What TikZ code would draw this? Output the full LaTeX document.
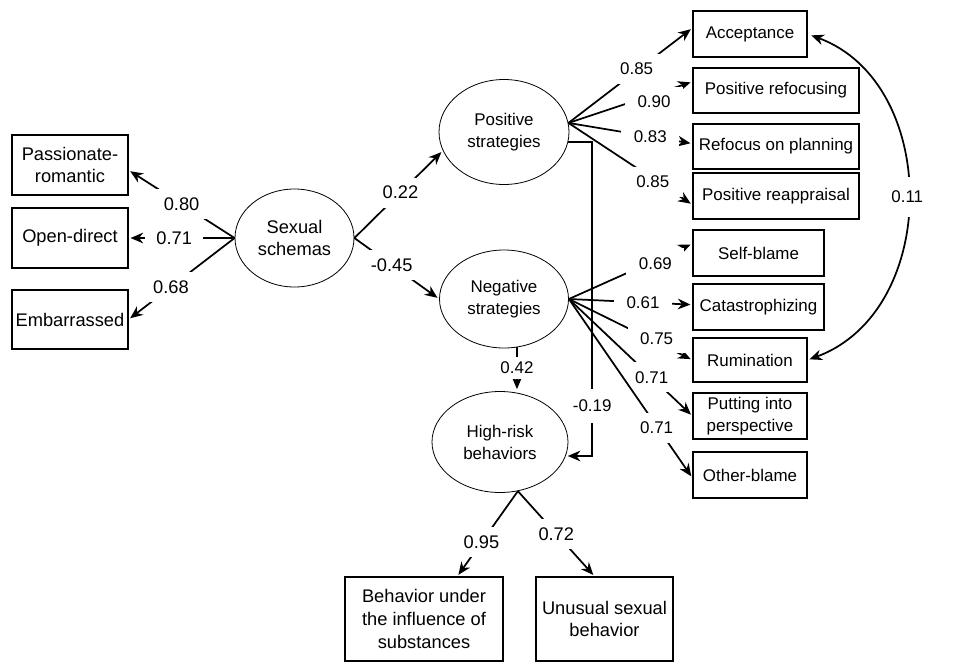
\documentclass[tikz,border=0pt]{standalone}
\usepackage{fontspec}
\setmainfont{Liberation Sans}
\usetikzlibrary{shapes.geometric,arrows.meta}
\newlength\pxu
\setlength\pxu{0.75pt}
\newcommand\lfont{\fontsize{13.7}{17}\selectfont}
\newcommand\rfont{\fontsize{12.7}{16.5}\selectfont}

\begin{document}
\begin{tikzpicture}[x=0.75pt, y=-0.75pt,
    ind/.style n args={2}{draw, line width=0.8pt, minimum width=#1\pxu, minimum height=#2\pxu, inner sep=0pt, align=center, font=\rfont},
    lat/.style n args={2}{draw, ellipse, line width=0.6pt, minimum width=#1\pxu, minimum height=#2\pxu, inner sep=0pt, align=center, font=\rfont},
    coef/.style={fill=white, minimum width=58\pxu, minimum height=30\pxu, inner sep=0pt, font=\rfont},
    arr/.style={-{Stealth[length=9.5pt, width=8pt]}, line width=1.3pt, shorten >=1.5pt},
    arr2/.style={{Stealth[length=9.5pt, width=8pt]}-{Stealth[length=9.5pt, width=8pt]}, line width=1.3pt, shorten >=1.5pt, shorten <=3pt}
]
\useasboundingbox (0,0) rectangle (966,664);

% Latent variables
\node[lat={119}{98}, font=\lfont] (ss) at (294.5,238) {Sexual\\schemas};
\node[lat={130}{105}] (ps) at (504,132) {Positive\\strategies};
\node[lat={129}{98}] (ns) at (504,299) {Negative\\strategies};
\node[lat={136}{101}] (hr) at (500,442) {High-risk\\behaviors};

% Sexual schemas indicators
\node[ind={116}{60}, font=\lfont] (pr) at (70,165) {Passionate-\\romantic};
\node[ind={116}{60}, font=\lfont] (od) at (70,238) {Open-direct};
\node[ind={116}{59}, font=\lfont] (emb) at (70,319.5) {Embarrassed};

% Positive strategies indicators
\node[ind={114}{46}] (acc) at (750,34) {Acceptance};
\node[ind={166}{45}] (prf) at (776,90.5) {Positive refocusing};
\node[ind={166}{45}] (rop) at (776,146.5) {Refocus on planning};
\node[ind={166}{46}] (pra) at (776,196) {Positive reappraisal};

% Negative strategies indicators
\node[ind={131}{46}] (sb) at (758.5,253) {Self-blame};
\node[ind={131}{46}] (cat) at (758.5,307) {Catastrophizing};
\node[ind={114}{44}] (rum) at (750,360) {Rumination};
\node[ind={114}{46}] (pip) at (750,416) {Putting into\\perspective};
\node[ind={114}{46}] (ob) at (750,475) {Other-blame};

% High-risk indicators
\node[ind={158}{84}, font=\lfont] (bus) at (424,619) {Behavior under\\the influence of\\substances};
\node[ind={137}{84}, font=\lfont] (usb) at (604.5,619) {Unusual sexual\\behavior};

% Loadings of sexual schemas
\draw[arr] (ss.west) -- node[coef, font=\lfont, pos=0.5] {0.80} (pr.-5);
\draw[arr] (ss.west) -- node[coef, font=\lfont, pos=0.57] {0.71} (od.east);
\draw[arr] (ss.west) -- node[coef, font=\lfont, pos=0.6] {0.68} (emb.east);

% Sexual schemas -> strategies
\draw[arr] (ss.east) -- node[coef, font=\lfont, pos=0.52] {0.22} (ps.197);
\draw[arr] (ss.east) -- node[coef, font=\lfont, pos=0.44] {-0.45} (ns.west);

% Loadings of the strategies
\foreach \t/\a/\v/\p/\s in {acc/174/0.85/0.55/2, prf/174/0.90/0.69/-7, rop/178/0.83/0.66/0, pra/186/0.85/0.68/-3}
    \draw[arr] (ps.8) -- node[coef, pos=\p, yshift=\s\pxu] {\v} (\t.\a);
\foreach \t/\a/\v/\p/\s in {sb/172/0.69/0.7/-3, cat/178/0.61/0.6/0, rum/180/0.75/0.71/4, pip/180/0.71/0.67/0, ob/183/0.71/0.71/-2}
    \draw[arr] (ns.east) -- node[coef, pos=\p, yshift=\s\pxu] {\v} (\t.\a);

% Paths to high-risk behaviors
\draw[arr] (ns.-75) -- node[coef, pos=0.46, minimum height=22\pxu] {0.42} (ns.-75 |- hr.north);
\draw[arr] (ps.-9) -- ++(24,0) |- node[coef, pos=0.42, minimum height=34\pxu] {-0.19} (hr.-12);

% Loadings of high-risk behaviors
\draw[arr] (hr.-70) -- node[coef, font=\lfont, pos=0.6] {0.95} (bus.52);
\draw[arr] (hr.-70) -- node[coef, font=\lfont, pos=0.5] {0.72} (usb.103);

% Correlated errors
\draw[arr2] (acc.east) .. controls +(133,49) and +(133,-49) .. node[coef, pos=0.5, minimum height=40\pxu] {0.11} (rum.east);

\end{tikzpicture}
\end{document}
